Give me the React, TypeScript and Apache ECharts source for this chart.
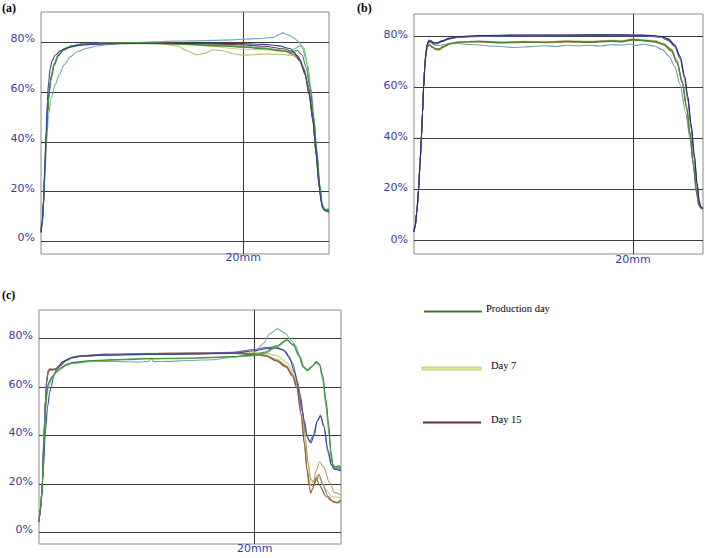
import React, { useEffect, useRef } from "react";
import * as echarts from "echarts";

type P = [number, number][];

// ---------- axis settings ----------
const yTicks = [0, 20, 40, 60, 80];
const xTick = [20];
const xTickLabel = "20mm";
const legendNames = ["Production day", "Day 7", "Day 15"];
const legendColors = ["#3c7a2c", "#c9d86a", "#6e2a2e"];

// ---------- panel (a): x in mm, y in % ----------
const aBlue: P = [[0,4],[0.12,8],[0.25,17],[0.38,30],[0.5,44],[0.62,56],[0.75,64],[0.9,69.5],[1.1,72.6],[1.4,74.8],[1.9,76.6],[2.5,77.7],[3.5,78.6],[5,79.2],[8,79.5],[12,79.6],[16,79.6],[20,79.5],[22,79.2],[23.5,78.6],[24.6,77.5],[25.4,74.5],[25.9,70],[26.4,63],[26.8,52],[27.1,40],[27.4,27],[27.65,17],[27.85,13.2],[28.1,12.3],[28.47,12]];
const aTeal: P = [[0,4],[0.12,8],[0.25,15],[0.4,28],[0.55,40],[0.75,51],[1.0,57.5],[1.4,63],[1.8,67],[2.3,71],[2.9,74.2],[3.6,76.3],[4.5,77.6],[5.5,78.5],[7,79.3],[9,79.8],[11,80.2],[13,80.5],[15,80.6],[17,80.8],[19,81],[20,81.3],[21.5,81.5],[23,82],[23.5,83],[23.9,83.8],[24.4,83],[24.9,82],[25.4,80.5],[25.8,78.5],[26.2,73],[26.6,63],[26.95,50],[27.25,36],[27.55,22],[27.8,14.5],[28.1,12.5],[28.47,11.5]];
const aGreen: P = [[0,4],[0.12,8],[0.25,16],[0.38,28],[0.5,41],[0.65,52],[0.8,60],[1.0,66],[1.3,71],[1.7,74.8],[2.2,77],[3,78.5],[4,79.2],[6,79.6],[9,79.8],[12,79.6],[15,79.1],[18,78.5],[20,78],[22,77.4],[24,76.5],[24.8,76],[25.3,76.8],[25.8,75],[26.2,70],[26.6,62],[26.95,50],[27.25,37],[27.55,23],[27.8,14.5],[28.1,12.6],[28.47,12.8]];
const aLightGreen: P = [[0,4],[0.12,8],[0.25,16],[0.38,29],[0.5,42],[0.65,53],[0.8,61],[1.0,66.5],[1.3,71.5],[1.7,75],[2.2,77.2],[3,78.6],[4,79.3],[6,79.6],[9,79.8],[12,79.7],[15,79.3],[18,78.8],[20,78.5],[22,77.8],[23.5,77],[24.6,76.3],[25.1,77.5],[25.6,78.6],[26.0,77.5],[26.35,71],[26.7,61],[27.0,49],[27.3,35],[27.6,21],[27.85,14],[28.1,12.8],[28.47,13.3]];
const aOlive: P = [[0,3.5],[0.12,7],[0.25,14],[0.38,26],[0.5,39],[0.65,51],[0.8,59],[1.0,65],[1.3,70.5],[1.7,74.3],[2.2,76.8],[3,78.3],[4,79.1],[6,79.5],[9,79.6],[12,79.4],[13.5,78.5],[14.5,76.5],[15.4,75],[16.1,75.5],[17,77],[18,76.6],[19,75.4],[20,74.8],[21,75],[22,75.3],[23.5,75.2],[24.8,74.8],[25.5,73.5],[26,70],[26.45,62],[26.85,50],[27.15,37],[27.45,24],[27.75,15],[28.1,12.5],[28.47,12]];
const aYellow: P = [[0,3.5],[0.12,7],[0.25,14],[0.38,27],[0.5,40],[0.65,52],[0.8,60],[1.0,65.5],[1.3,71],[1.7,74.6],[2.2,77],[3,78.4],[4,79.2],[6,79.6],[9,79.8],[12,79.6],[15,79],[17,78.3],[19,77.5],[20,77.2],[22,77],[24,76.2],[25,75.5],[25.6,73],[26.1,68],[26.5,60],[26.9,49],[27.2,36],[27.5,23],[27.8,14.5],[28.1,12.5],[28.47,12.3]];
const aBrown: P = [[0,3.5],[0.12,7],[0.25,15],[0.38,28],[0.5,41],[0.65,52],[0.8,60],[1.0,66],[1.3,71],[1.7,74.7],[2.2,77],[3,78.5],[4,79.2],[6,79.6],[9,79.8],[12,79.5],[15,79.2],[18,78.6],[20,78.2],[22,77.6],[24,76.6],[25,75],[25.6,72.5],[26.1,67],[26.5,59],[26.9,48],[27.2,35],[27.5,22],[27.8,14],[28.1,12.3],[28.47,11.8]];
const aMaroon: P = [[0,3.5],[0.12,7],[0.25,15],[0.38,28],[0.5,41],[0.65,52],[0.8,60],[1.0,66],[1.3,71],[1.7,74.7],[2.2,77],[3,78.5],[4,79.3],[6,79.7],[9,79.8],[12,79.7],[15,79.5],[18,79.2],[20,79],[22,78.4],[24,77.4],[25,76],[25.6,73],[26.1,67.5],[26.5,59],[26.9,48],[27.2,35],[27.5,22],[27.8,14],[28.1,12.4],[28.47,12.2]];

// ---------- panel (b) ----------
const bPurple: P = [[0,3.5],[0.12,6],[0.25,11],[0.42,20],[0.55,30],[0.67,40],[0.78,50],[0.88,60],[0.98,67.5],[1.08,73],[1.2,76.8],[1.35,78.3],[1.55,78.1],[1.8,77.4],[2.1,77.3],[2.6,78.1],[3.2,79],[4,79.6],[6,80],[10,80.2],[14,80.3],[18,80.3],[20,80.3],[21.5,80.1],[22.5,79.7],[23.2,78.6],[23.8,76.2],[24.3,71.5],[24.7,64],[25.0,56],[25.3,45],[25.6,33],[25.85,22],[26.05,15],[26.2,13],[26.39,12.5]];
const bNavy: P = [[0,3.5],[0.12,6],[0.25,11],[0.42,20],[0.55,30],[0.67,40],[0.78,50],[0.88,60],[0.98,67.5],[1.08,73],[1.2,76.6],[1.35,78],[1.55,77.9],[1.8,77.2],[2.1,77.2],[2.6,78],[3.2,79],[4,79.7],[6,80.1],[10,80.3],[14,80.3],[18,80.4],[20,80.3],[21.5,80.2],[22.5,79.8],[23.2,78.8],[23.8,76.5],[24.3,72],[24.7,64.5],[25.0,56.5],[25.3,45.5],[25.6,33.5],[25.85,22.5],[26.05,15.5],[26.2,13.2],[26.39,12.6]];
const bBlue: P = [[0,3.5],[0.12,6],[0.25,11],[0.42,20],[0.55,30],[0.67,40],[0.78,50],[0.88,60],[0.98,67.5],[1.08,72.8],[1.2,76.4],[1.35,77.5],[1.55,77.4],[1.8,76.8],[2.1,76.9],[2.6,77.8],[3.2,78.7],[4,79.3],[6,79.7],[10,79.9],[14,80],[18,80],[20,80],[21.5,79.8],[22.5,79.4],[23.2,78.2],[23.8,75.8],[24.3,71],[24.7,63.5],[25,55],[25.3,44],[25.6,32],[25.85,21],[26.05,14.5],[26.2,12.8],[26.39,12.4]];
const bGreen: P = [[0,3.5],[0.12,6],[0.25,11],[0.42,20],[0.55,30],[0.67,40],[0.78,50],[0.88,60],[0.98,67],[1.08,72.5],[1.2,75.8],[1.4,76.6],[1.7,75.6],[2.0,74.7],[2.3,74.6],[2.7,75.6],[3.3,76.9],[4,77.5],[6,77.8],[8,77.4],[10,77.6],[12,77.5],[14,77.8],[16,77.6],[18,78],[19,77.8],[20,78.6],[21,78.2],[22,77.8],[22.8,76.8],[23.5,74.5],[24,70],[24.5,62],[24.9,52],[25.2,42],[25.5,30],[25.8,19],[26.0,14],[26.2,12.8],[26.39,12.5]];
const bOlive: P = [[0,3.5],[0.12,6],[0.25,11],[0.42,20],[0.55,30],[0.67,40],[0.78,50],[0.88,60],[0.98,67],[1.08,72.3],[1.2,75.5],[1.4,76.3],[1.7,75.3],[2.0,74.4],[2.3,74.5],[2.7,75.5],[3.3,76.8],[4,77.6],[6,77.9],[8,77.6],[10,77.8],[12,77.7],[14,78],[16,77.8],[18,78.2],[19,78],[20,78.8],[21,78.4],[22,78],[22.8,77],[23.5,74.8],[24,70.5],[24.5,62.5],[24.9,52.5],[25.2,42.5],[25.5,30.5],[25.8,19.5],[26.0,14.2],[26.2,12.9],[26.39,12.6]];
const bBrown: P = [[0,3.5],[0.12,6],[0.25,11],[0.42,20],[0.55,30],[0.67,40],[0.78,50],[0.88,60],[0.98,67],[1.08,72.4],[1.2,75.6],[1.4,76.4],[1.7,75.5],[2.0,74.9],[2.3,75],[2.7,75.9],[3.3,77.1],[4,77.5],[6,77.6],[8,77.2],[10,77.4],[12,77.3],[14,77.6],[16,77.4],[18,77.8],[19,77.6],[20,78.3],[21,78],[22,77.5],[22.8,76.4],[23.5,74],[24,69.5],[24.5,61.5],[24.9,51.5],[25.2,41.5],[25.5,29.5],[25.8,18.5],[26.0,13.8],[26.2,12.6],[26.39,12.4]];
const bTeal: P = [[0,3.5],[0.12,6],[0.25,11],[0.42,20],[0.55,30],[0.67,40],[0.78,50],[0.88,60],[0.98,67.5],[1.08,73],[1.2,76.8],[1.35,77.8],[1.6,77.2],[1.9,76.3],[2.3,76.2],[3,76.8],[4,77],[5,76.6],[6,76.4],[7,76],[8,75.8],[9,75.4],[10,75.6],[11,75.9],[12,76.1],[13,75.8],[14,76.3],[15,76.1],[16,76.3],[17,76],[18,76.5],[19,76.4],[19.8,76.8],[20.2,76.2],[21,76.7],[22,76],[22.7,74.5],[23.3,72],[23.8,68],[24.3,61],[24.8,50],[25.2,40],[25.5,30],[25.8,20],[26.0,14.5],[26.2,13],[26.39,12.8]];

// ---------- panel (c) ----------
const cBrown: P = [[0,4.5],[0.15,10],[0.31,20],[0.46,40],[0.6,55],[0.72,63],[0.85,66.5],[1.0,67.3],[1.3,67.2],[1.6,67.5],[2.0,69],[2.5,71],[3.1,72.2],[4,72.8],[6,73.3],[10,73.6],[14,73.8],[18,74],[20,73.6],[21,73],[22,71],[22.9,68.5],[23.5,65],[23.9,60],[24.3,49],[24.6,37],[24.85,26],[25.05,19],[25.2,16.3],[25.4,18.5],[25.7,22.5],[26,19.5],[26.6,15],[27.2,13],[27.6,12.5],[28,13.5]];
const cOlive: P = [[0,4.5],[0.15,10],[0.31,20],[0.46,40],[0.6,55],[0.72,63],[0.85,66.8],[1.0,67.5],[1.3,67.4],[1.6,67.8],[2.0,69.3],[2.5,71.2],[3.1,72.4],[4,73],[6,73.5],[10,73.8],[14,74],[18,74.2],[20,73.8],[21,73.2],[22,71.5],[22.9,69],[23.5,65.5],[23.9,61],[24.4,51],[24.7,39],[24.95,29],[25.2,22],[25.45,21],[25.7,25.5],[26.0,29.2],[26.4,27],[26.9,21],[27.4,16.5],[28,15.5]];
const cMauve: P = [[0,4.5],[0.15,10],[0.31,20],[0.46,40],[0.6,55],[0.72,63],[0.85,66.4],[1.0,67.2],[1.3,67.1],[1.6,67.4],[2.0,68.8],[2.5,70.9],[3.1,72.1],[4,72.7],[6,73.2],[10,73.5],[14,73.7],[18,73.9],[20,73.4],[21,72.8],[22,70.8],[22.9,68.2],[23.5,64.5],[23.9,59.5],[24.3,48.5],[24.6,36.5],[24.85,26],[25.1,20],[25.4,19],[25.7,21.5],[25.95,24],[26.3,20],[26.8,15],[27.3,12.5],[27.7,12.2],[28,12.8]];
const cYellow: P = [[0,4.5],[0.15,10],[0.31,20],[0.46,40],[0.6,55],[0.72,63],[0.85,66.8],[1.0,67.6],[1.3,67.5],[1.6,67.9],[2.0,69.4],[2.5,71.3],[3.1,72.5],[4,73.1],[6,73.6],[10,73.9],[14,74.1],[18,74.3],[20,74.5],[21,74],[22,73],[23,70],[23.6,66],[24.0,60],[24.4,50],[24.7,38],[24.95,28],[25.2,21],[25.5,20.5],[25.8,23.5],[26.1,22],[26.6,17.5],[27.2,14.8],[28,14.5]];
const cPurple: P = [[0,4.5],[0.15,10],[0.31,20],[0.46,39],[0.6,54],[0.72,62],[0.85,66],[1.0,67],[1.3,67.1],[1.6,67.5],[2.0,69],[2.5,71],[3.1,72.3],[4,73],[6,73.5],[10,73.8],[14,74],[18,74.4],[20,75.5],[21,76.3],[22,76.5],[22.8,75],[23.5,70],[24,62],[24.4,50],[24.8,40.5],[25.1,37.5],[25.4,40],[25.8,46],[26.1,48.5],[26.4,44],[26.8,33],[27.1,28],[27.4,26.5],[28,26]];
const cBlue: P = [[0,4.5],[0.2,12],[0.4,26],[0.6,42],[0.8,52],[1.0,58],[1.1,60],[1.4,65],[1.7,68],[2.2,70.5],[3,72],[4,72.8],[6,73.2],[10,73.5],[14,73.7],[18,74],[20,75],[21,75.8],[22,76],[22.6,75.5],[23.2,72.5],[23.7,66],[24.2,57],[24.6,46],[24.9,39],[25.2,37],[25.5,40],[25.8,46],[26.1,48],[26.4,44],[26.8,34],[27.1,28],[27.4,26],[28,25.5]];
const cGreen: P = [[0,4.5],[0.15,10],[0.31,20],[0.46,38],[0.6,52],[0.75,59],[0.9,62],[1.24,64.5],[1.6,66.5],[2.0,68],[2.6,69.5],[3.1,70.2],[5,71],[8,71.5],[10,71.8],[14,72],[18,72.6],[20,73.3],[21,74.5],[22,77],[23,79.5],[23.6,77.5],[24.1,73],[24.5,68.5],[24.9,67],[25.3,68.5],[25.7,70.5],[26.0,69.5],[26.3,65],[26.6,55],[26.85,45],[27.05,34],[27.25,28],[27.5,27],[27.75,27.5],[28,27]];
const cLightGreen: P = [[0,4.5],[0.15,10],[0.31,20],[0.46,37],[0.6,51],[0.75,58.5],[0.9,61.7],[1.24,64.2],[1.6,66.2],[2.0,67.8],[2.6,69.3],[3.1,70],[5,70.8],[8,71.3],[10,71.6],[14,71.8],[18,72.4],[20,73],[21,74],[22,76.5],[23,79.2],[23.6,77.2],[24.1,72.7],[24.5,68.2],[24.9,66.8],[25.3,68.3],[25.7,70.3],[26.0,69.3],[26.3,64.5],[26.6,54],[26.85,44],[27.05,33],[27.25,27.5],[27.5,26.5],[27.75,27],[28,26.5]];
const cTeal: P = [[0,4.5],[0.15,10],[0.31,20],[0.46,37],[0.6,50],[0.75,57],[0.9,61],[1.24,64],[1.6,66],[2.0,67.5],[2.6,69],[3.1,69.8],[5,70.6],[7,70.6],[9.3,70.3],[10.2,70.6],[10.4,72],[10.6,70.5],[12,70.6],[14,71],[16,71.3],[18,72.3],[19.5,73.5],[20,74.5],[20.8,78],[21.4,82],[22.1,84],[22.8,82.3],[23.4,79.2],[23.8,77],[24.2,72.5],[24.6,68],[24.9,67.2],[25.3,68.5],[25.7,70],[26.0,69],[26.3,63],[26.6,52],[26.9,40],[27.1,30],[27.3,26.5],[27.6,26],[28,26.5]];

type Curve = { d: P; c: string; w?: number };
const panelA: Curve[] = [
  { d: aTeal, c: "#78a7b0" },
  { d: aYellow, c: "#cfd37e" },
  { d: aOlive, c: "#b9bb6e" },
  { d: aBrown, c: "#8e6b3c" },
  { d: aMaroon, c: "#7c3a4e" },
  { d: aLightGreen, c: "#6cb874" },
  { d: aGreen, c: "#3a8a3a" },
  { d: aBlue, c: "#2f3f9f" },
];
const panelB: Curve[] = [
  { d: bTeal, c: "#6fa3a2" },
  { d: bOlive, c: "#b8b456" },
  { d: bBrown, c: "#92602e" },
  { d: bGreen, c: "#3d8a3a" },
  { d: bBlue, c: "#4a66b8" },
  { d: bPurple, c: "#9273b8" },
  { d: bNavy, c: "#22285e" },
];
const panelC: Curve[] = [
  { d: cTeal, c: "#7aa7a6" },
  { d: cYellow, c: "#cbcb84" },
  { d: cOlive, c: "#aca35a" },
  { d: cMauve, c: "#9a7c8c" },
  { d: cBrown, c: "#8b5a2b" },
  { d: cPurple, c: "#7f5fa4" },
  { d: cBlue, c: "#34489a" },
  { d: cLightGreen, c: "#64b06a" },
  { d: cGreen, c: "#3d8b3d" },
];

export default function App() {
  const ref = useRef<HTMLDivElement>(null);
  useEffect(() => {
    if (!ref.current) return;
    const chart = echarts.init(ref.current, undefined, { renderer: "svg" });
    const grids = [
      { left: 41, top: 12, width: 288, height: 242 },
      { left: 414, top: 14, width: 289, height: 240 },
      { left: 39, top: 310, width: 302, height: 234 },
    ];
    const xMax = [28.47, 26.39, 28.0];
    const yMin = [-5.1, -5.2, -4.7];
    const yMax = [92.2, 88.5, 91.8];
    const yLH = [7, 3, 6];
    const xMargin = [-2, 0, -1];
    const labelColor = "#3b3b9c";
    const gridLine = { show: true, lineStyle: { color: "#3a3a3a", width: 1, type: "solid" as const } };
    const panels = [panelA, panelB, panelC];
    const series: any[] = [];
    panels.forEach((p, gi) => {
      p.forEach((cv) => {
        series.push({
          type: "line",
          xAxisIndex: gi,
          yAxisIndex: gi,
          data: cv.d,
          showSymbol: false,
          symbol: "none",
          smooth: 0.3,
          smoothMonotone: "x",
          lineStyle: { color: cv.c, width: cv.w ?? 1.1 },
          z: 3,
        });
      });
    });
    const graphic: any[] = [
      { type: "text", left: 2, top: 2, style: { text: "(a)", font: "bold 12px 'Liberation Serif'", fill: "#000" } },
      { type: "text", left: 357, top: 2, style: { text: "(b)", font: "bold 12px 'Liberation Serif'", fill: "#000" } },
      { type: "text", left: 2, top: 289, style: { text: "(c)", font: "bold 12px 'Liberation Serif'", fill: "#000" } },
    ];
    const legY = [311.5, 368.5, 422.5];
    const legX1 = [424, 422, 423];
    const legTextX = [486, 491, 491];
    legendNames.forEach((n, i) => {
      if (i === 1) {
        graphic.push({ type: "rect", shape: { x: legX1[i], y: legY[i] - 1.5, width: 59, height: 3 }, style: { fill: "#dfe79a", stroke: "#b8c64e", lineWidth: 0.8 } });
      } else {
        graphic.push({ type: "line", shape: { x1: legX1[i], y1: legY[i], x2: legX1[i] + 58, y2: legY[i] }, style: { stroke: legendColors[i], lineWidth: 2 } });
      }
      graphic.push({ type: "text", x: legTextX[i], y: legY[i] - 3, style: { text: n, font: "10.5px 'Liberation Serif'", fill: "#000", verticalAlign: "middle" } });
    });

    chart.setOption({
      animation: false,
      backgroundColor: "#fff",
      grid: grids.map((g) => ({ ...g, show: true, borderColor: "#8a8a8a", borderWidth: 1, containLabel: false })),
      xAxis: grids.map((_, gi) => ({
        type: "value",
        gridIndex: gi,
        min: 0,
        max: xMax[gi],
        axisLine: { show: false },
        axisTick: { show: false, customValues: xTick },
        splitLine: gridLine,
        axisLabel: {
          customValues: xTick,
          formatter: () => xTickLabel,
          color: labelColor,
          fontFamily: "DejaVu Sans",
          fontSize: 11,
          margin: xMargin[gi],
        },
      })),
      yAxis: grids.map((_, gi) => ({
        type: "value",
        gridIndex: gi,
        min: yMin[gi],
        max: yMax[gi],
        axisLine: { show: false },
        axisTick: { show: false, customValues: yTicks },
        splitLine: gridLine,
        axisLabel: {
          customValues: yTicks,
          formatter: (v: number) => `${v}%`,
          color: labelColor,
          fontFamily: "DejaVu Sans",
          fontSize: 11,
          margin: 6,
          verticalAlign: "bottom",
          lineHeight: yLH[gi],
        },
      })),
      series,
      graphic,
    });
    return () => chart.dispose();
  }, []);
  return <div ref={ref} style={{ position: "absolute", left: 0, top: 0, width: 705, height: 558 }} />;
}
